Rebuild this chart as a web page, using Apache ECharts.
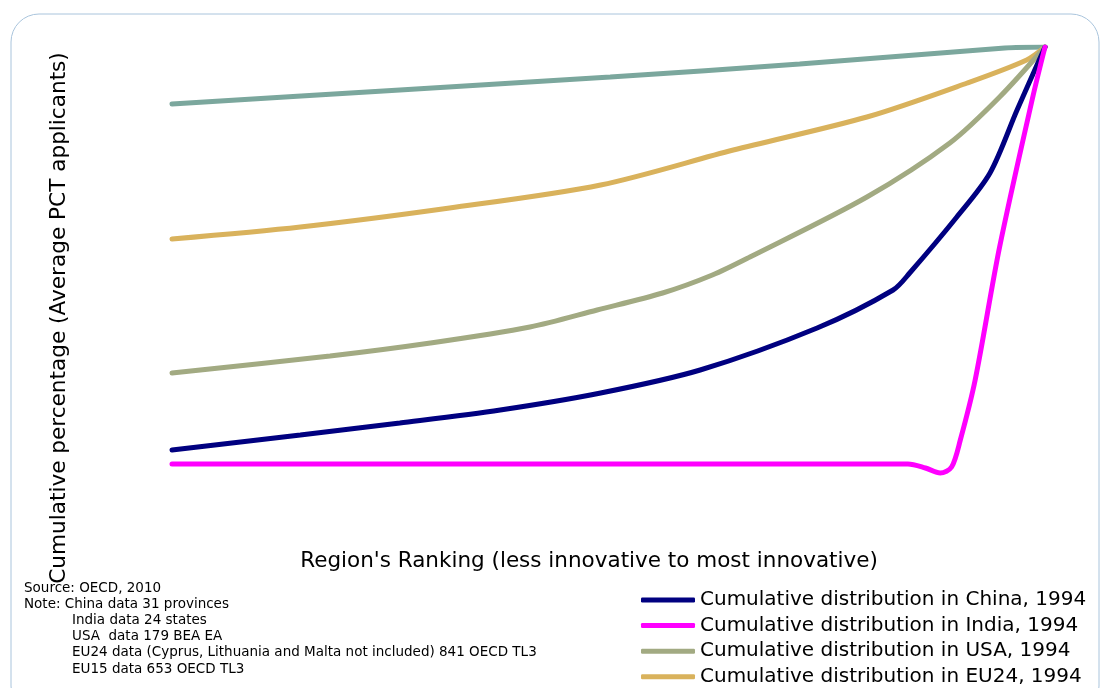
<!doctype html>
<html>
<head>
<meta charset="utf-8">
<title>Cumulative distribution of PCT applicants, 1994</title>
<style>
  html, body { margin: 0; padding: 0; background: #fff; }
  #main { width: 1101px; height: 688px; }
</style>
</head>
<body>
<div id="main"></div>
<script src="https://cdn.jsdelivr.net/npm/echarts@6/dist/echarts.min.js"></script>
<script>
// x = region ranking (% of regions), y = cumulative percentage
var china = [[0, 19.4], [14.7, 22.4], [26.1, 24.8], [37.6, 27.4], [49.1, 30.8], [60.5, 35.4], [73.9, 43.8],
             [82.6, 51.4], [84.5, 54.8], [89.9, 66], [93.7, 74.8], [96.8, 87.4], [100, 100]];
var india = [[0, 16.6], [84.3, 16.6], [86.3, 15.8], [88, 14.8], [89.3, 16], [90.3, 21.4], [92, 33.4],
             [94.8, 60], [98.6, 90], [100, 100]];
var usa = [[0, 34.8], [18.1, 38.2], [29.6, 40.8], [41, 44], [48.7, 47.4], [56.2, 50.8], [61.9, 54.4],
           [66.2, 58], [79.6, 70], [89.1, 80.8], [94.8, 90], [100, 100]];
var eu24 = [[0, 61.6], [14.7, 64], [31.8, 67.8], [49.1, 72.4], [64.3, 79.4], [79.6, 86], [91.1, 92.8],
            [97.9, 97.4], [100, 100]];
var eu15 = [[0, 88.6], [26.1, 91.4], [50.2, 94], [71.9, 96.6], [95.4, 99.8], [100, 100]];

var names = ['Cumulative distribution in China, 1994', 'Cumulative distribution in India, 1994',
             'Cumulative distribution in USA, 1994', 'Cumulative distribution in EU24, 1994'];
var colors = ['#000080', '#ff00ff', '#a2aa82', '#d9b25c', '#7ba79d'];

var sourceLines = ['Source: OECD, 2010', 'Note: China data 31 provinces'];
var noteLines = ['India data 24 states', 'USA  data 179 BEA EA',
                 'EU24 data (Cyprus, Lithuania and Malta not included) 841 OECD TL3',
                 'EU15 data 653 OECD TL3'];

var chart = echarts.init(document.getElementById('main'));

function line(name, data, color) {
    return {
        name: name,
        type: 'line',
        data: data,
        smooth: 0.3,
        showSymbol: false,
        lineStyle: { color: color, width: 5, cap: 'round' },
        itemStyle: { color: color },
        z: 3
    };
}

chart.setOption({
    animation: false,
    textStyle: { fontFamily: 'DejaVu Sans' },
    grid: { left: 172, right: 56, top: 47, bottom: 141 },
    xAxis: { type: 'value', min: 0, max: 100, show: false },
    yAxis: { type: 'value', min: 0, max: 100, show: false },
    legend: {
        orient: 'vertical',
        left: 641,
        top: 590,
        padding: 0,
        itemWidth: 54,
        itemHeight: 5,
        itemGap: 5.6,
        icon: 'roundRect',
        textStyle: { fontSize: 20, color: '#000', padding: [0, 0, 0, 0] },
        data: names
    },
    graphic: [
        {
            type: 'rect',
            shape: { x: 11, y: 14, width: 1088, height: 700, r: 28 },
            style: { fill: 'none', stroke: '#a9c4dc', lineWidth: 1 },
            silent: true
        },
        {
            type: 'text',
            x: 59, y: 318,
            rotation: Math.PI / 2,
            style: {
                text: 'Cumulative percentage (Average PCT applicants)',
                font: '21.6px "DejaVu Sans"', fill: '#000',
                align: 'center', verticalAlign: 'middle'
            }
        },
        {
            type: 'text',
            x: 589, y: 561,
            style: {
                text: "Region's Ranking (less innovative to most innovative)",
                font: '21.5px "DejaVu Sans"', fill: '#000',
                align: 'center', verticalAlign: 'middle'
            }
        },
        {
            type: 'text',
            x: 24, y: 580,
            style: {
                text: sourceLines.join('\n'),
                font: '13.5px "DejaVu Sans"', lineHeight: 16.2, fill: '#000',
                align: 'left', verticalAlign: 'top'
            }
        },
        {
            type: 'text',
            x: 72, y: 612.4,
            style: {
                text: noteLines.join('\n'),
                font: '13.5px "DejaVu Sans"', lineHeight: 16.2, fill: '#000',
                align: 'left', verticalAlign: 'top'
            }
        }
    ],
    series: [
        line('EU15', eu15, colors[4]),
        line(names[3], eu24, colors[3]),
        line(names[2], usa, colors[2]),
        line(names[0], china, colors[0]),
        line(names[1], india, colors[1])
    ]
});
</script>
</body>
</html>
